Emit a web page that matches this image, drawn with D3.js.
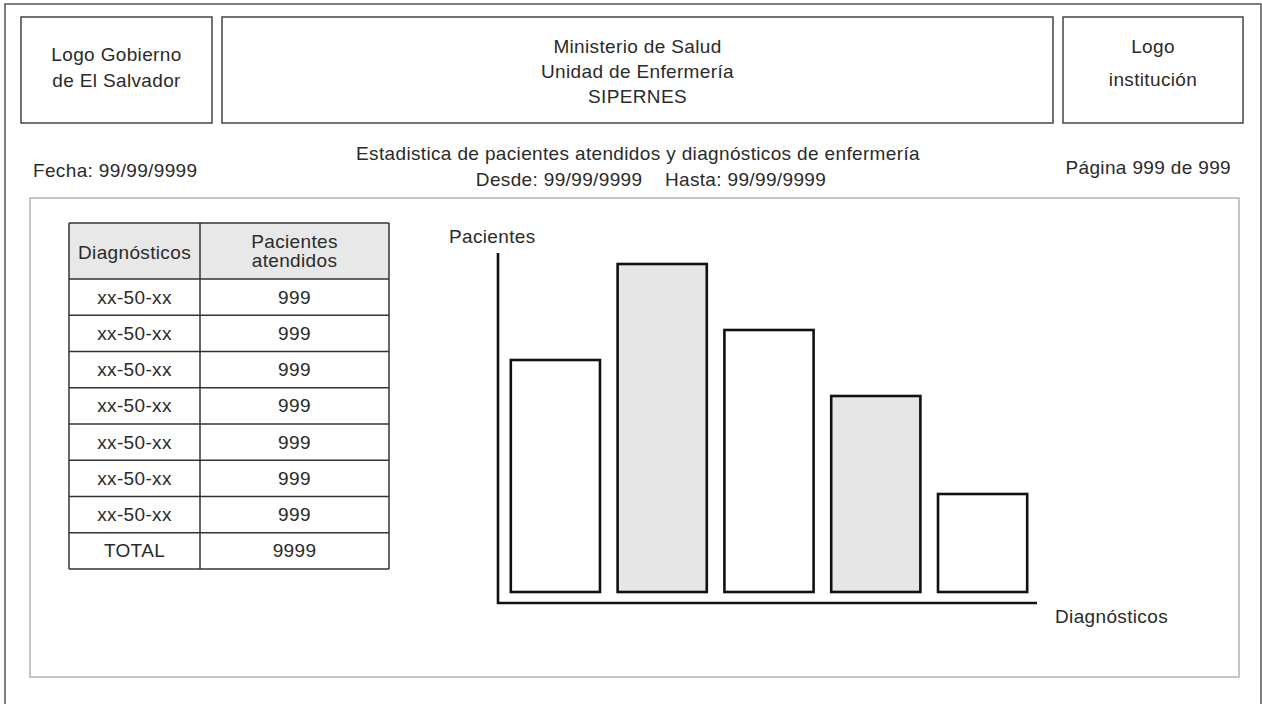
<!DOCTYPE html>
<html>
<head>
<meta charset="utf-8">
<script src="https://cdn.jsdelivr.net/npm/d3@7"></script>
<style>
  html, body { margin: 0; padding: 0; background: #fff; }
  svg { display: block; }
  text { font-family: "Liberation Sans", Arial, sans-serif; fill: #2a2a2a; white-space: pre; }
</style>
</head>
<body>
<svg id="report" width="1262" height="704"></svg>
<script>
// Header texts
const logoLeftLines = ["Logo Gobierno", "de El Salvador"];
const titleLines = ["Ministerio de Salud", "Unidad de Enfermería", "SIPERNES"];
const logoRightLines = ["Logo", "institución"];
const fechaText = "Fecha: 99/99/9999";
const paginaText = "Página 999 de 999";
const reportTitle = "Estadistica de pacientes atendidos y diagnósticos de enfermería";
const rangeText = "Desde: 99/99/9999    Hasta: 99/99/9999";

// Table
const tableHeaders = [["Diagnósticos"], ["Pacientes", "atendidos"]];
const diagnosticos = ["xx-50-xx", "xx-50-xx", "xx-50-xx", "xx-50-xx", "xx-50-xx", "xx-50-xx", "xx-50-xx", "TOTAL"];
const pacientes = ["999", "999", "999", "999", "999", "999", "999", "9999"];

// Bar chart
const barCategories = ["d1", "d2", "d3", "d4", "d5"];
const barValues = [232, 328, 262, 196, 98];
const barFills = ["#ffffff", "#e6e6e6", "#ffffff", "#e6e6e6", "#ffffff"];
const yAxisTitle = "Pacientes";
const xAxisTitle = "Diagnósticos";

const svg = d3.select("#report");
const FS = 19;
const LS = "0.35px";

function textLines(g, lines, x, y0, dy, anchor) {
  lines.forEach((t, i) => {
    g.append("text")
      .attr("x", x).attr("y", y0 + i * dy)
      .attr("text-anchor", anchor || "middle")
      .attr("xml:space", "preserve")
      .style("font-size", FS + "px")
      .style("letter-spacing", LS)
      .text(t);
  });
}

// Page frame
svg.append("rect").attr("x", 5).attr("y", 4).attr("width", 1256).attr("height", 720)
  .attr("fill", "none").attr("stroke", "#555").attr("stroke-width", 1.5);

// Header boxes
const boxes = [
  { x: 21, w: 191, lines: logoLeftLines, y0: 61, dy: 26 },
  { x: 222, w: 831, lines: titleLines, y0: 53, dy: 25 },
  { x: 1063, w: 180, lines: logoRightLines, y0: 53, dy: 33 }
];
boxes.forEach(b => {
  svg.append("rect").attr("x", b.x).attr("y", 17).attr("width", b.w).attr("height", 106)
    .attr("fill", "#fff").attr("stroke", "#444").attr("stroke-width", 1.5);
  textLines(svg, b.lines, b.x + b.w / 2, b.y0, b.dy);
});

textLines(svg, [fechaText], 33, 177, 0, "start");
textLines(svg, [paginaText], 1231, 174, 0, "end");
textLines(svg, [reportTitle], 638, 160, 0);
textLines(svg, [rangeText], 651, 186, 0);

// Content panel
svg.append("rect").attr("x", 30).attr("y", 198).attr("width", 1209).attr("height", 479)
  .attr("fill", "none").attr("stroke", "#b3b3b3").attr("stroke-width", 1.5);

// Table
const tbl = { x: 69, y: 223, colW: [131, 189], headH: 56, rowH: 36.25 };
const tg = svg.append("g");
const colX = [tbl.x, tbl.x + tbl.colW[0], tbl.x + tbl.colW[0] + tbl.colW[1]];
tg.append("rect").attr("x", tbl.x).attr("y", tbl.y)
  .attr("width", colX[2] - tbl.x).attr("height", tbl.headH).attr("fill", "#e8e8e8");
const rowY = d3.range(diagnosticos.length + 1).map(i => tbl.y + tbl.headH + i * tbl.rowH);
[tbl.y].concat(rowY).forEach(y => {
  tg.append("line").attr("x1", colX[0]).attr("x2", colX[2]).attr("y1", y).attr("y2", y)
    .attr("stroke", "#333").attr("stroke-width", 1.5);
});
colX.forEach(x => {
  tg.append("line").attr("x1", x).attr("x2", x).attr("y1", tbl.y).attr("y2", rowY[rowY.length - 1])
    .attr("stroke", "#333").attr("stroke-width", 1.5);
});
textLines(tg, tableHeaders[0], (colX[0] + colX[1]) / 2, 259, 0);
textLines(tg, tableHeaders[1], (colX[1] + colX[2]) / 2, 248, 19);
diagnosticos.forEach((d, i) => {
  const cy = rowY[i] + tbl.rowH / 2 + 6.5;
  textLines(tg, [d], (colX[0] + colX[1]) / 2, cy, 0);
  textLines(tg, [pacientes[i]], (colX[1] + colX[2]) / 2, cy, 0);
});

// Bar chart
const x = d3.scaleBand().domain(barCategories).range([502, 1036])
  .paddingInner(0.165).paddingOuter(0.0825);
const y = d3.scaleLinear().domain([0, 340]).range([592, 252]);
const axisY = 603;

svg.append("g").selectAll("rect").data(barCategories).join("rect")
  .attr("x", d => x(d))
  .attr("y", (d, i) => y(barValues[i]))
  .attr("width", x.bandwidth())
  .attr("height", (d, i) => y(0) - y(barValues[i]))
  .attr("fill", (d, i) => barFills[i])
  .attr("stroke", "#111").attr("stroke-width", 2.6);

// Axes (lines only)
svg.append("line").attr("x1", 498).attr("x2", 498).attr("y1", y(339)).attr("y2", axisY + 1)
  .attr("stroke", "#111").attr("stroke-width", 2.6);
svg.append("line").attr("x1", 497).attr("x2", 1037).attr("y1", axisY).attr("y2", axisY)
  .attr("stroke", "#111").attr("stroke-width", 2.6);

textLines(svg, [yAxisTitle], 449, 243, 0, "start");
textLines(svg, [xAxisTitle], 1055, 623, 0, "start");
</script>
</body>
</html>
